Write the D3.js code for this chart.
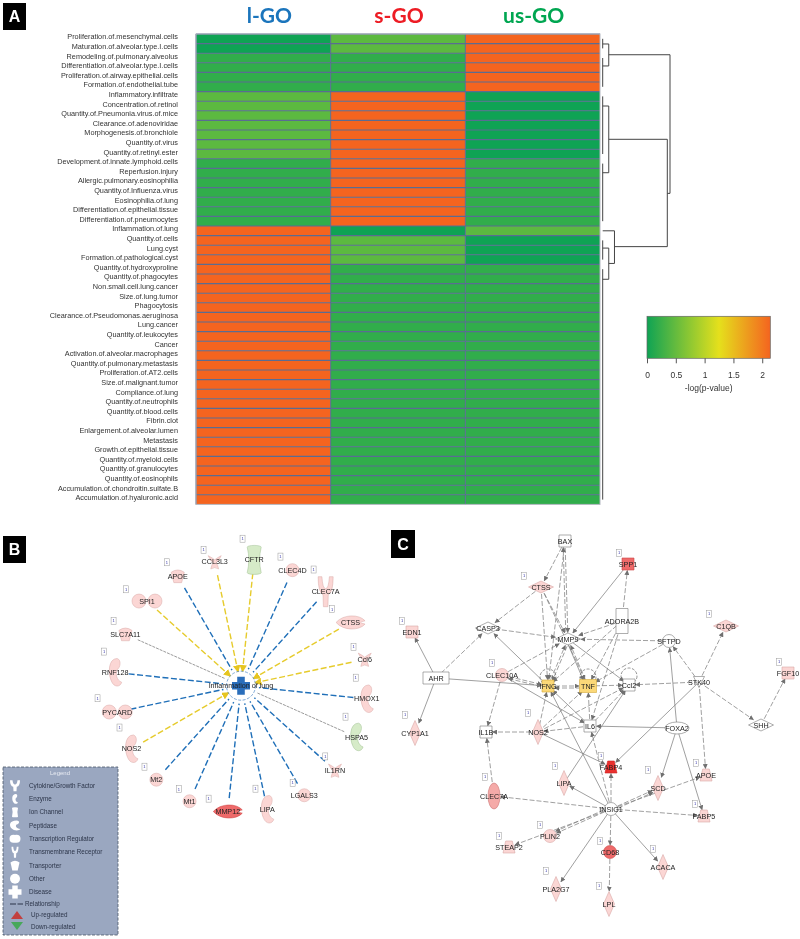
<!DOCTYPE html>
<html lang="en">
<head>
  <meta charset="UTF-8">
  <title>GO lung pathway heatmap and networks</title>
  <style>
    html, body { margin: 0; padding: 0; background: #fff; }
    svg { display: block; will-change: transform; }
    text { font-family: "Liberation Sans", Arial, sans-serif; }
    .panel-title { font-family: Lato, "Open Sans", sans-serif; font-weight: 700; font-size: 21px; text-anchor: middle; }
    .panel-letter { font-family: "Liberation Sans", Arial, sans-serif; font-weight: 700; font-size: 16px; fill: #fff; text-anchor: middle; }
    .row-label { font-size: 7.3px; fill: #333; text-anchor: end; }
    .node-label { font-size: 7.2px; fill: #222; text-anchor: middle; }
    .tag-label { font-size: 4px; fill: #33a; text-anchor: middle; }
    .legend-label { font-size: 6.3px; fill: #2b3448; }
  </style>
</head>
<body>
<svg id="chart" width="800" height="939"></svg>
<script src="https://d3js.org/d3.v7.min.js"></script>
<script>
// ---- panel A data
const groups = ["l-GO", "s-GO", "us-GO"];
const pathways = [
  "Proliferation.of.mesenchymal.cells", "Maturation.of.alveolar.type.I.cells", "Remodeling.of.pulmonary.alveolus",
  "Differentiation.of.alveolar.type.I.cells", "Proliferation.of.airway.epithelial.cells", "Formation.of.endothelial.tube",
  "Inflammatory.infiltrate", "Concentration.of.retinol", "Quantity.of.Pneumonia.virus.of.mice", "Clearance.of.adenoviridae",
  "Morphogenesis.of.bronchiole", "Quantity.of.virus", "Quantity.of.retinyl.ester", "Development.of.innate.lymphoid.cells",
  "Reperfusion.injury", "Allergic.pulmonary.eosinophilia", "Quantity.of.Influenza.virus", "Eosinophilia.of.lung",
  "Differentiation.of.epithelial.tissue", "Differentiation.of.pneumocytes", "Inflammation.of.lung", "Quantity.of.cells",
  "Lung.cyst", "Formation.of.pathological.cyst", "Quantity.of.hydroxyproline", "Quantity.of.phagocytes",
  "Non.small.cell.lung.cancer", "Size.of.lung.tumor", "Phagocytosis", "Clearance.of.Pseudomonas.aeruginosa", "Lung.cancer",
  "Quantity.of.leukocytes", "Cancer", "Activation.of.alveolar.macrophages", "Quantity.of.pulmonary.metastasis",
  "Proliferation.of.AT2.cells", "Size.of.malignant.tumor", "Compliance.of.lung", "Quantity.of.neutrophils",
  "Quantity.of.blood.cells", "Fibrin.clot", "Enlargement.of.alveolar.lumen", "Metastasis", "Growth.of.epithelial.tissue",
  "Quantity.of.myeloid.cells", "Quantity.of.granulocytes", "Quantity.of.eosinophils",
  "Accumulation.of.chondroitin.sulfate.B", "Accumulation.of.hyaluronic.acid"
];
const lGO = [0, 0, .2, .2, .2, .2, .45, .45, .45, .45, .45, .45, .45, .2, .2, .2, .2, .2, .2, .2,
  2.14, 2.14, 2.14, 2.14, 2.14, 2.14, 2.14, 2.14, 2.14, 2.14, 2.14, 2.14, 2.14, 2.14, 2.14, 2.14, 2.14,
  2.14, 2.14, 2.14, 2.14, 2.14, 2.14, 2.14, 2.14, 2.14, 2.14, 2.14, 2.14];
const sGO = [.45, .45, .2, .2, .2, .2, 2.14, 2.14, 2.14, 2.14, 2.14, 2.14, 2.14, 2.14, 2.14, 2.14, 2.14, 2.14, 2.14, 2.14,
  0, .45, .45, .45, .2, .2, .2, .2, .2, .2, .2, .2, .2, .2, .2, .2, .2,
  .2, .2, .2, .2, .2, .2, .2, .2, .2, .2, .2, .2];
const usGO = [2.14, 2.14, 2.14, 2.14, 2.14, 2.14, 0, 0, 0, 0, 0, 0, 0, .2, .2, .2, .2, .2, .2, .2,
  .45, 0, 0, 0, .2, .2, .2, .2, .2, .2, .2, .2, .2, .2, .2, .2, .2,
  .2, .2, .2, .2, .2, .2, .2, .2, .2, .2, .2, .2];
const groupValues = [lGO, sGO, usGO];
const colorTicks = [0, .5, 1, 1.5, 2];

// leaf runs of the row tree: first row, last row
const treeRuns = [[0, 1], [2, 5], [6, 12], [13, 19], [21, 23], [24, 48]];
// merges: height, row of upper arm, height of upper arm, row of lower arm, height of lower arm
const treeMerges = [
  [.09, .54, 0, 2.83, 0],
  [.09, 7, 0, 13.95, 0],
  [.09, 21.8, 0, 25.05, 0],
  [.175, 20, 0, 23.4, .09],
  [.96, 10.47, .09, 21.65, .175],
  [1, 1.66, .09, 16.1, .96]
];

// ---- panel B data
const netBNames = ["CFTR", "CLEC4D", "CLEC7A", "CTSS", "Ccl6", "HMOX1", "HSPA5", "IL1RN", "LGALS3", "LIPA",
  "MMP12", "Mt1", "Mt2", "NOS2", "PYCARD", "RNF128", "SLC7A11", "SPI1", "APOE", "CCL3L3"];
const netBKinds = ["barrel", "circle", "receptor", "lens", "cytokine", "kidney", "kidney", "cytokine", "circle", "kidney",
  "lens", "circle", "circle", "kidney", "dumbbell", "kidney", "cup", "dumbbell", "cup", "cytokine"];
const netBTones = ["green", "pink", "pink", "pink", "pink", "pink", "green", "pink", "pink", "pink",
  "coral", "pink", "pink", "pink", "pink", "pink", "pink", "pink", "pink", "pink"];
const netBLinks = ["yellow", "blue", "blue", "yellow", "yellow", "blue", "gray", "blue", "blue", "blue",
  "blue", "blue", "blue", "yellow", "blue", "blue", "gray", "yellow", "blue", "yellow"];
const netBTagAngles = [.6, 17, 32, 50, 71, 86, 106.5, 130, 152, 172, 196, 211, 230, 251, 265, 284, 297, 310, 329, 344.6];
const netBTagRadii = [147, 135, 137, 119, 119, 115, 109, 110, 110, 104, 117.5, 120.7, 126, 128.5, 144, 141, 143, 150, 144, 141];
const netBCentre = "Inflammation of lung";

// ---- legend data
const legendNames = ["Cytokine/Growth Factor", "Enzyme", "Ion Channel", "Peptidase", "Transcription Regulator",
  "Transmembrane Receptor", "Transporter", "Other", "Disease"];
const legendKinds = ["receptor", "kidney", "barrel", "kidney", "dumbbell", "receptor", "cup", "circle", "plus"];

// ---- panel C data, layout units of the network drawing
const netCNames = ["BAX", "SPP1", "CTSS", "ADORA2B", "EDN1", "CASP3", "MMP9", "SFTPD", "C1QB", "FGF10", "AHR", "CLEC10A",
  "IFNG", "TNF", "Ccl2", "STK40", "SHH", "CYP1A1", "IL1B", "NOS2", "IL6", "FOXA2", "FABP4", "LIPA", "SCD", "APOE",
  "FABP5", "CLEC7A", "INSIG1", "PLIN2", "STEAP2", "CD68", "ACACA", "PLA2G7", "LPL"];
const netCX = [170, 233, 146, 227, 17, 93, 173, 274, 331, 393, 41, 107, 153, 193, 234, 304, 366, 20, 91, 143, 195, 282,
  216, 169, 263, 311, 309, 99, 216, 155, 114, 215, 268, 161, 214];
const netCY = [11, 34, 57, 91, 102, 98, 109, 111, 96, 143, 148, 145, 156, 156, 155, 152, 195, 203, 202, 202, 196, 198,
  237, 253, 258, 245, 286, 266, 279, 306, 317, 322, 337, 359, 374];
const netCKinds = ["rect", "rect", "diamondH", "rectTall", "rect", "diamondH", "diamondH", "circle", "diamondH", "rect", "rectWide", "circle",
  "rect", "rectBig", "rect", "funnel", "diamondH", "diamondV", "rect", "diamondV", "rect", "ellipse", "trapezoid", "diamondV", "diamondV", "trapezoid",
  "trapezoid", "ellipseTall", "circle", "circle", "trapezoid", "circle", "diamondV", "diamondV", "diamondV"];
const netCTones = ["white", "coral", "pink", "white", "pink", "white", "white", "white", "pink", "pink", "white", "pink",
  "gold", "gold", "white", "white", "white", "pink", "white", "pink", "white", "white", "red", "pink", "pink", "pink",
  "pink", "salmon", "white", "pink", "pink", "coral", "pink", "pink", "pink"];
const netCEdges = [
  ["BAX", "CTSS", "d"], ["BAX", "MMP9", "d"], ["BAX", "IFNG", "d"], ["MMP9", "BAX", "d"], ["SPP1", "MMP9", "s"], ["ADORA2B", "SPP1", "d"],
  ["CTSS", "CASP3", "d"], ["CTSS", "MMP9", "d"], ["CTSS", "IFNG", "d"], ["CTSS", "TNF", "d"], ["ADORA2B", "MMP9", "d"], ["ADORA2B", "IFNG", "d"],
  ["ADORA2B", "TNF", "d"], ["ADORA2B", "IL6", "d"], ["CASP3", "MMP9", "d"], ["IFNG", "CASP3", "s"], ["AHR", "CASP3", "d"], ["AHR", "EDN1", "s"],
  ["AHR", "CYP1A1", "s"], ["AHR", "IFNG", "s"], ["CLEC10A", "IFNG", "d"], ["IFNG", "CLEC10A", "d"], ["CLEC10A", "MMP9", "d"], ["CLEC10A", "IL1B", "d"],
  ["CLEC10A", "IL6", "s"], ["SFTPD", "MMP9", "d"], ["SFTPD", "TNF", "d"], ["FOXA2", "SFTPD", "s"], ["STK40", "SFTPD", "d"], ["STK40", "C1QB", "d"],
  ["STK40", "Ccl2", "d"], ["STK40", "SHH", "d"], ["SHH", "FGF10", "d"], ["STK40", "APOE", "d"], ["STK40", "FABP4", "s"], ["IFNG", "TNF", "d"],
  ["TNF", "IFNG", "d"], ["TNF", "Ccl2", "d"], ["IFNG", "MMP9", "d"], ["MMP9", "IFNG", "d"], ["TNF", "MMP9", "d"], ["MMP9", "TNF", "s"],
  ["MMP9", "Ccl2", "s"], ["IL6", "TNF", "d"], ["IL6", "IFNG", "s"], ["IL6", "Ccl2", "d"], ["NOS2", "Ccl2", "d"], ["NOS2", "TNF", "d"],
  ["NOS2", "IFNG", "d"], ["NOS2", "IL1B", "d"], ["IL6", "NOS2", "d"], ["FOXA2", "IL6", "s"], ["FOXA2", "SCD", "s"], ["FOXA2", "FABP5", "s"],
  ["CLEC7A", "IL1B", "d"], ["INSIG1", "CLEC7A", "d"], ["INSIG1", "LIPA", "s"], ["INSIG1", "FABP4", "d"], ["INSIG1", "SCD", "d"], ["INSIG1", "SCD", "d"],
  ["INSIG1", "APOE", "d"], ["INSIG1", "FABP5", "d"], ["INSIG1", "PLIN2", "d"], ["INSIG1", "PLIN2", "d"], ["INSIG1", "STEAP2", "d"], ["INSIG1", "CD68", "d"],
  ["INSIG1", "ACACA", "s"], ["INSIG1", "PLA2G7", "s"], ["CD68", "LPL", "d"], ["NOS2", "FABP4", "s"], ["LIPA", "Ccl2", "s"], ["INSIG1", "IFNG", "s"],
  ["INSIG1", "IL6", "d"]
];
const netCLoops = ["IFNG", "TNF", "Ccl2"];
const netCTagNames = ["SPP1", "CTSS", "EDN1", "C1QB", "CLEC10A", "FGF10", "CYP1A1", "NOS2", "FABP4", "LIPA", "SCD", "APOE",
  "FABP5", "CLEC7A", "PLIN2", "STEAP2", "CD68", "ACACA", "PLA2G7", "LPL"];
const netCTagX = [224, 129, 7, 314, 97, 384, 10, 133, 206, 160, 253, 301, 300, 90, 145, 104, 205, 258, 151, 204];
const netCTagY = [23, 46, 91, 84, 133, 132, 185, 183, 226, 236, 240, 233, 274, 247, 295, 306, 311, 319, 341, 356];

// ---- look of the marks
const titleColors = ["#1b75bc", "#ed1c24", "#00a651"];
const titleShift = [6, 1, 1];
const toneFill = { white: "#fff", pink: "#fbd6d4", green: "#d6ebc8", red: "#e9302e", coral: "#ee6a6a", salmon: "#f5aaa8", gold: "#fbd878" };
const toneStroke = { white: "#777", pink: "#d8a8a6", green: "#9fbf90", red: "#c22", coral: "#c44", salmon: "#c77", gold: "#d4a93a" };
const linkColors = { blue: "#1f6fb8", yellow: "#e6cb2c", gray: "#808080" };
const kindSize = {
  barrel: [14, 29], circle: [13, 13], receptor: [15, 30], lens: [29, 13], cytokine: [13, 14], kidney: [13, 28], dumbbell: [30, 14], cup: [13, 13],
  rect: [12, 12], rectBig: [17, 13], rectTall: [12, 25], rectWide: [26, 12], diamondH: [25, 12], diamondV: [11, 25], funnel: [11, 11],
  ellipse: [24, 12], ellipseTall: [12, 26], trapezoid: [12, 12]
};
const legendSize = [[10, 11], [6, 10], [6, 10], [11, 10], [11, 8], [7, 11], [9, 10], [10, 10], [13, 13]];

function shapePath(kind, w, h) {
  const a = w / 2, b = h / 2;
  const oval = (cx, rx, ry) => `M${cx - rx},0A${rx},${ry} 0 1 1 ${cx + rx},0A${rx},${ry} 0 1 1 ${cx - rx},0Z`;
  if (kind === "circle" || kind === "ellipse" || kind === "ellipseTall") return oval(0, a, b);
  if (kind === "rect" || kind === "rectBig" || kind === "rectTall" || kind === "rectWide") return `M${-a},${-b}H${a}V${b}H${-a}Z`;
  if (kind === "diamondH" || kind === "diamondV") return `M${-a},0L0,${-b}L${a},0L0,${b}Z`;
  if (kind === "trapezoid") return `M${-a * .55},${-b}H${a * .55}L${a},${b}H${-a}Z`;
  if (kind === "funnel") return `M${-a},${-b}H${a}L0,${b}Z`;
  if (kind === "cup") return `M${-a},${-b * .6}Q0,${-b * 1.3} ${a},${-b * .6}L${a * .6},${b}H${-a * .6}Z`;
  if (kind === "dumbbell") return oval(-a + b, b, b) + oval(a - b, b, b);
  if (kind === "kidney") return `M${a * .3},${-b}C${a},${-b * .9} ${a * .8},${-b * .35} ${a * .3},${-b * .2}C0,${b * .1} ${a * .2},${b * .55} ${a},${b * .7}C${a * .8},${b * 1.05} ${-a * .2},${b * 1.1} ${-a * .6},${b * .6}C${-a * 1.1},${b * .1} ${-a * 1.1},${-b} ${a * .3},${-b}Z`;
  if (kind === "receptor") return `M${-a},${-b}L${-a * .5},${-b}Q${-a * .4},${-b * .2} 0,${-b * .2}Q${a * .4},${-b * .2} ${a * .5},${-b}L${a},${-b}Q${a},${b * .05} ${a * .35},${b * .2}L${a * .3},${b}L${-a * .3},${b}L${-a * .35},${b * .2}Q${-a},${b * .05} ${-a},${-b}Z`;
  if (kind === "cytokine") return `M${-a},${-b * .9}Q${-a * .2},${-b * .5} 0,${-b * .3}Q${a * .2},${-b * .5} ${a},${-b * .9}Q${a * .6},${-b * .1} ${a * .25},${b * .1}Q${a * .5},${b * .5} ${a * .6},${b}Q0,${b * .6} ${-a * .6},${b}Q${-a * .5},${b * .5} ${-a * .25},${b * .1}Q${-a * .6},${-b * .1} ${-a},${-b * .9}Z`;
  if (kind === "barrel") return `M${-a},${-b * .88}A${a},${b * .12} 0 0 1 ${a},${-b * .88}Q${a * .55},0 ${a},${b * .88}A${a},${b * .12} 0 0 1 ${-a},${b * .88}Q${-a * .55},0 ${-a},${-b * .88}Z`;
  if (kind === "lens") return `M${-a},0C${-a * .5},${-b * 1.3} ${a * .6},${-b * 1.3} ${a},${-b * .25}Q${a * .4},0 ${a},${b * .25}C${a * .6},${b * 1.3} ${-a * .5},${b * 1.3} ${-a},0Z`;
  if (kind === "plus") { const t = a * .42; return `M${-t},${-b}H${t}V${-t}H${a}V${t}H${t}V${b}H${-t}V${t}H${-a}V${-t}H${-t}Z`; }
}

const svg = d3.select("#chart");
svg.append("rect").attr("width", 800).attr("height", 939).attr("fill", "#fff");
const defs = svg.append("defs");

function addArrow(id, color, size) {
  defs.append("marker").attr("id", id)
    .attr("viewBox", "0 0 10 10").attr("refX", 9).attr("refY", 5)
    .attr("markerUnits", "userSpaceOnUse").attr("markerWidth", size).attr("markerHeight", size)
    .attr("orient", "auto")
    .append("path").attr("d", "M0,0L10,5L0,10Z").attr("fill", color);
}
addArrow("arrow-gray", "#707070", 5);
addArrow("arrow-yellow", "#e6c520", 7.5);

function panelLetter(letter, x, y, w, h) {
  svg.append("rect").attr("x", x).attr("y", y).attr("width", w).attr("height", h).attr("fill", "#000");
  svg.append("text").attr("class", "panel-letter").attr("x", x + w / 2).attr("y", y + h / 2).attr("dy", "0.36em").text(letter);
}

// ---- panel A, heatmap
const color = d3.scaleLinear().domain([0, 1.25, 2.14]).range(["#0fa354", "#e5e01c", "#f4641f"]);
const xBand = d3.scaleBand().domain(groups).range([196, 600]);
const yBand = d3.scaleBand().domain(pathways).range([34, 504.4]);

panelLetter("A", 3, 3, 23, 27);

svg.append("g").selectAll("text").data(groups).join("text")
  .attr("class", "panel-title")
  .attr("x", (d, i) => xBand(d) + xBand.bandwidth() / 2 + titleShift[i])
  .attr("y", 22.7)
  .attr("fill", (d, i) => titleColors[i])
  .text(d => d);

svg.append("g").selectAll("text").data(pathways).join("text")
  .attr("class", "row-label")
  .attr("x", 178)
  .attr("y", d => yBand(d) + yBand.bandwidth() / 2 - 2)
  .attr("dy", "0.35em")
  .text(d => d);

const heat = svg.append("g");
groups.forEach((g, gi) => {
  heat.selectAll(".c" + gi).data(groupValues[gi]).join("rect")
    .attr("class", "c" + gi)
    .attr("x", xBand(g))
    .attr("y", (d, i) => yBand(pathways[i]))
    .attr("width", xBand.bandwidth())
    .attr("height", yBand.bandwidth())
    .attr("fill", d => color(d));
});
// grid goes on top of all the cells so that no line is half covered
heat.selectAll(".row-line").data(pathways).join("line").attr("class", "row-line")
  .attr("x1", 196).attr("x2", 600)
  .attr("y1", d => yBand(d)).attr("y2", d => yBand(d))
  .attr("stroke", "#5a6c92").attr("stroke-width", 1.1);
heat.selectAll(".col-line").data(groups).join("line").attr("class", "col-line")
  .attr("x1", d => xBand(d)).attr("x2", d => xBand(d))
  .attr("y1", 34).attr("y2", 504.4)
  .attr("stroke", "#5a6c92").attr("stroke-width", 1);
svg.append("rect").attr("x", 196).attr("y", 34).attr("width", 404).attr("height", 470.4)
  .attr("fill", "none").attr("stroke", "#b4b8c2").attr("stroke-width", 1);

// row tree
const treeX = d3.scaleLinear().domain([0, 1]).range([602.7, 670]);
const treeY = r => yBand(pathways[0]) + yBand.bandwidth() / 2 + r * yBand.step();
const tree = svg.append("g").attr("fill", "none").attr("stroke", "#444").attr("stroke-width", 1);
tree.selectAll(".run").data(treeRuns).join("line").attr("class", "run")
  .attr("x1", treeX(0)).attr("x2", treeX(0))
  .attr("y1", d => treeY(d[0])).attr("y2", d => treeY(d[1]));
tree.selectAll(".merge").data(treeMerges).join("path").attr("class", "merge")
  .attr("d", d => `M${treeX(d[2])},${treeY(d[1])}H${treeX(d[0])}V${treeY(d[3])}H${treeX(d[4])}`);

// colour bar
const barScale = d3.scaleLinear().domain([0, 2.14]).range([647, 770.3]);
const grad = defs.append("linearGradient").attr("id", "bar-grad");
[0, .25, .5, .75, 1, 1.25, 1.5, 1.75, 2, 2.14].forEach(v => {
  grad.append("stop").attr("offset", v / 2.14).attr("stop-color", color(v));
});
svg.append("rect").attr("x", 647).attr("y", 316.3).attr("width", 123.3).attr("height", 42)
  .attr("fill", "url(#bar-grad)").attr("stroke", "#666").attr("stroke-width", 0.7);
const barAxis = svg.append("g").attr("transform", "translate(0,358.3)")
  .call(d3.axisBottom(barScale).tickValues(colorTicks).tickFormat(d3.format("~g")).tickSize(5).tickPadding(8.5));
barAxis.select(".domain").remove();
barAxis.selectAll("line").attr("stroke", "#555");
barAxis.selectAll("text").attr("font-family", "Liberation Sans").attr("font-size", 8.5).attr("fill", "#333");
svg.append("text").attr("x", 708.7).attr("y", 391).attr("text-anchor", "middle")
  .attr("font-size", 8.5).attr("fill", "#333").text("-log(p-value)");

// ---- panel B, radial network
panelLetter("B", 3, 536, 23, 27);
const bCx = 241, bCy = 685.7;
const angle = d3.scaleLinear().domain([0, netBNames.length]).range([6, 366]);
const polar = (deg, r) => {
  const p = d3.pointRadial(deg * Math.PI / 180, r);
  return [bCx + p[0], bCy + p[1]];
};
const netB = svg.append("g");
netB.selectAll("line").data(netBNames).join("line")
  .each(function (d, i) {
    const a = angle(i);
    const from = polar(a, 113), to = polar(a, netBLinks[i] === "yellow" ? 14 : 18);
    d3.select(this).attr("x1", from[0]).attr("y1", from[1]).attr("x2", to[0]).attr("y2", to[1]);
  })
  .attr("stroke", (d, i) => linkColors[netBLinks[i]])
  .attr("stroke-width", (d, i) => netBLinks[i] === "gray" ? 0.8 : 1.4)
  .attr("stroke-dasharray", (d, i) => netBLinks[i] === "gray" ? "3,1" : "6,2.5")
  .attr("marker-end", (d, i) => netBLinks[i] === "yellow" ? "url(#arrow-yellow)" : null);

netB.append("circle").attr("cx", bCx).attr("cy", bCy).attr("r", 14.5)
  .attr("fill", "#fff").attr("fill-opacity", .7).attr("stroke", "#2a6ebb").attr("stroke-width", .6).attr("stroke-dasharray", "3,1.5");
netB.append("path").attr("transform", `translate(${bCx},${bCy})`).attr("d", shapePath("plus", 18, 18)).attr("fill", "#2a6ebb");
netB.append("text").attr("class", "node-label").attr("x", bCx).attr("y", bCy).attr("dy", "0.35em").text(netBCentre);

netB.selectAll(".bnode").data(netBNames).join("path").attr("class", "bnode")
  .attr("transform", (d, i) => { const p = polar(angle(i), 126.5); return `translate(${p[0]},${p[1]})`; })
  .attr("d", (d, i) => shapePath(netBKinds[i], kindSize[netBKinds[i]][0], kindSize[netBKinds[i]][1]))
  .attr("fill", (d, i) => toneFill[netBTones[i]])
  .attr("stroke", (d, i) => toneStroke[netBTones[i]])
  .attr("stroke-width", .5);
netB.selectAll(".blabel").data(netBNames).join("text").attr("class", "blabel node-label")
  .attr("x", (d, i) => polar(angle(i), 126.5)[0])
  .attr("y", (d, i) => polar(angle(i), 126.5)[1])
  .attr("dy", "0.35em")
  .text(d => d);

function addTag(parent, x, y) {
  parent.append("rect").attr("x", x - 2.5).attr("y", y - 3.5).attr("width", 5).attr("height", 7)
    .attr("fill", "#fff").attr("stroke", "#999").attr("stroke-width", .5);
  parent.append("text").attr("class", "tag-label").attr("x", x).attr("y", y).attr("dy", "0.35em").text("1");
}
netBNames.forEach((d, i) => {
  const p = polar(netBTagAngles[i], netBTagRadii[i]);
  addTag(netB, p[0], p[1]);
});

// ---- legend box
const legend = svg.append("g");
legend.append("rect").attr("x", 3).attr("y", 767).attr("width", 115).attr("height", 168)
  .attr("fill", "#9aa7c0").attr("stroke", "#4a5568").attr("stroke-width", .8).attr("stroke-dasharray", "3,1.5");
legend.append("text").attr("x", 60).attr("y", 775).attr("text-anchor", "middle").attr("font-size", 6).attr("fill", "#e8ebf2").text("Legend");
const legendY = d3.scalePoint().domain(legendNames).range([785.7, 892]);
legend.selectAll("path.licon").data(legendNames).join("path").attr("class", "licon")
  .attr("transform", d => `translate(15,${legendY(d)})`)
  .attr("d", (d, i) => shapePath(legendKinds[i], legendSize[i][0], legendSize[i][1]))
  .attr("fill", "#fff");
legend.selectAll(".ltext").data(legendNames).join("text").attr("class", "ltext legend-label")
  .attr("x", 29).attr("y", d => legendY(d)).attr("dy", "0.35em").text(d => d);
legend.append("path").attr("d", "M10,904H23").attr("stroke", "#2b3448").attr("stroke-width", 1.2).attr("stroke-dasharray", "6,1.5");
legend.append("text").attr("class", "legend-label").attr("x", 25).attr("y", 904).attr("dy", "0.35em").text("Relationship");
legend.append("path").attr("d", "M17,911L23,919H11Z").attr("fill", "#c2403f");
legend.append("text").attr("class", "legend-label").attr("x", 31).attr("y", 915).attr("dy", "0.35em").text("Up-regulated");
legend.append("path").attr("d", "M11,922H23L17,930Z").attr("fill", "#47a85a");
legend.append("text").attr("class", "legend-label").attr("x", 31).attr("y", 926.5).attr("dy", "0.35em").text("Down-regulated");

// ---- panel C, free layout network
panelLetter("C", 391, 530, 24, 28);
const cX = d3.scaleLinear().domain([0, 400]).range([395, 795]);
const cY = d3.scaleLinear().domain([0, 400]).range([530, 930]);
const cIndex = new Map(netCNames.map((n, i) => [n, i]));
const cPoint = n => [cX(netCX[cIndex.get(n)]), cY(netCY[cIndex.get(n)])];
const cSize = n => kindSize[netCKinds[cIndex.get(n)]];

// stop a line at the border of a node
function trim(from, to, size, gap) {
  const dx = from[0] - to[0], dy = from[1] - to[1];
  const len = Math.hypot(dx, dy);
  const t = 1 / Math.hypot(dx / (size[0] / 2), dy / (size[1] / 2));
  return [to[0] + dx * t + dx / len * gap, to[1] + dy * t + dy / len * gap];
}

const netC = svg.append("g");
const seen = new Map();
netC.selectAll(".edge").data(netCEdges).join("line").attr("class", "edge")
  .each(function (d) {
    const key = [d[0], d[1]].sort().join("|");
    const count = seen.get(key) || 0;
    seen.set(key, count + 1);
    const a = cPoint(d[0]), b = cPoint(d[1]);
    const len = Math.hypot(b[0] - a[0], b[1] - a[1]);
    const side = count * 2 * (d[0] < d[1] ? 1 : -1);
    const ox = -(b[1] - a[1]) / len * side, oy = (b[0] - a[0]) / len * side;
    const end = trim(a, b, cSize(d[1]), 0.5);
    d3.select(this)
      .attr("x1", a[0] + ox).attr("y1", a[1] + oy)
      .attr("x2", end[0] + ox).attr("y2", end[1] + oy);
  })
  .attr("stroke", "#808080")
  .attr("stroke-width", 0.75)
  .attr("stroke-dasharray", d => d[2] === "s" ? null : "5,2")
  .attr("marker-end", "url(#arrow-gray)");

netC.selectAll(".loop").data(netCLoops).join("circle").attr("class", "loop")
  .attr("cx", d => cPoint(d)[0])
  .attr("cy", d => cPoint(d)[1] - 9)
  .attr("r", 8)
  .attr("fill", "none").attr("stroke", "#777").attr("stroke-width", .8).attr("stroke-dasharray", "3,1.5");

netC.selectAll(".cnode").data(netCNames).join("path").attr("class", "cnode")
  .attr("transform", d => `translate(${cPoint(d)[0]},${cPoint(d)[1]})`)
  .attr("d", (d, i) => shapePath(netCKinds[i], kindSize[netCKinds[i]][0], kindSize[netCKinds[i]][1]))
  .attr("fill", (d, i) => toneFill[netCTones[i]])
  .attr("stroke", (d, i) => toneStroke[netCTones[i]])
  .attr("stroke-width", .6);
netC.selectAll(".clabel").data(netCNames).join("text").attr("class", "clabel node-label")
  .attr("x", d => cPoint(d)[0]).attr("y", d => cPoint(d)[1]).attr("dy", "0.35em").text(d => d);
netCTagNames.forEach((d, i) => addTag(netC, cX(netCTagX[i]), cY(netCTagY[i])));
</script>
</body>
</html>
